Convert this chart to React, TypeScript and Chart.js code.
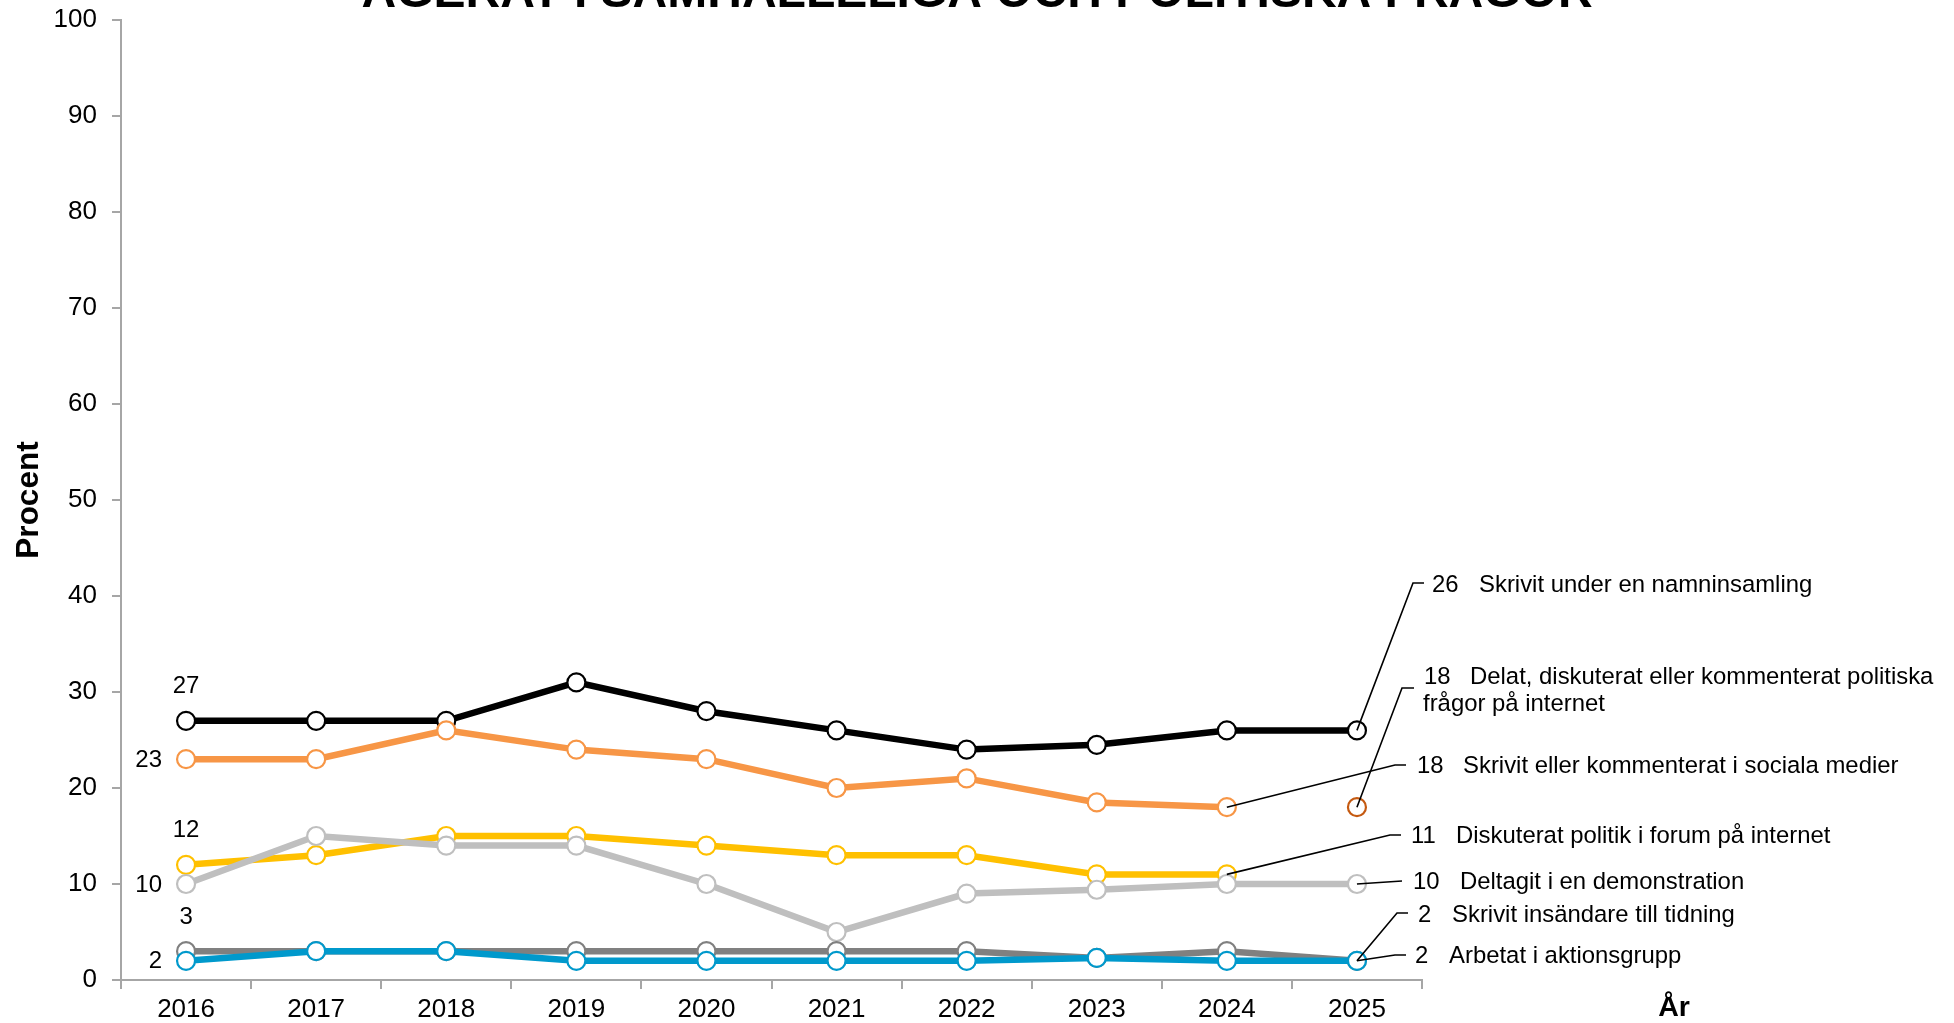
import React, { useEffect, useRef } from 'react';
import { Chart, registerables } from 'chart.js';

Chart.register(...registerables);

// ---------- data ----------
const years = ['2016', '2017', '2018', '2019', '2020', '2021', '2022', '2023', '2024', '2025'];

const namninsamling = [27, 27, 27, 31, 28, 26, 24, 24.5, 26, 26];
const socialaMedier = [23, 23, 26, 24, 23, 20, 21, 18.5, 18, null];
const forumInternet = [12, 13, 15, 15, 14, 13, 13, 11, 11, null];
const demonstration = [10, 15, 14, 14, 10, 5, 9, 9.4, 10, 10];
const insandare = [3, 3, 3, 3, 3, 3, 3, 2.3, 3, 2];
const aktionsgrupp = [2, 3, 3, 2, 2, 2, 2, 2.3, 2, 2];
const delatInternet = [null, null, null, null, null, null, null, null, null, 18];

const seriesLabels = [
  'Skrivit under en namninsamling',
  'Skrivit eller kommenterat i sociala medier',
  'Diskuterat politik i forum på internet',
  'Deltagit i en demonstration',
  'Skrivit insändare till tidning',
  'Arbetat i aktionsgrupp',
  'Delat, diskuterat eller kommenterat politiska frågor på internet',
];
const seriesColors = ['#000000', '#F79646', '#FFC000', '#BFBFBF', '#808080', '#0099CC', '#C55A11'];

const chartTitle = 'AGERAT I SAMHÄLLELIGA OCH POLITISKA FRÅGOR';
const yAxisTitle = 'Procent';
const xAxisTitle = 'År';

// first-year labels: which series and where
const firstLabelSide = ['above', 'left', 'above', 'left', 'above', 'left'];

// end annotations: series, year index, text lines (layout only)
const annotationSeries = [0, 6, 1, 2, 3, 4, 5];
const annotationIndex = [9, 9, 8, 8, 9, 9, 9];
const annotationLines = [
  ['Skrivit under en namninsamling'],
  ['Delat, diskuterat eller kommenterat politiska', 'frågor på internet'],
  ['Skrivit eller kommenterat i sociala medier'],
  ['Diskuterat politik i forum på internet'],
  ['Deltagit i en demonstration'],
  ['Skrivit insändare till tidning'],
  ['Arbetat i aktionsgrupp'],
];
// layout for annotations: elbowX, elbowY, endX, numX, textX, textY
const annotationLayout = [
  [1413, 583, 1424, 1432, 1479, 585],
  [1402, 688, 1414, 1424, 1470, 677],
  [1395, 765, 1406, 1417, 1463, 766],
  [1390, 835, 1401, 1411, 1456, 836],
  [1402, 881, 1402, 1413, 1460, 882],
  [1397, 913, 1408, 1418, 1452, 915],
  [1395, 955, 1406, 1415, 1449, 956],
];

const FONT = '"Liberation Sans", Arial, sans-serif';

const allSeries = [namninsamling, socialaMedier, forumInternet, demonstration, insandare, aktionsgrupp, delatInternet];

const fmt = (v: number) => String(Math.round(v));

const overlayPlugin = {
  id: 'overlay',
  afterDatasetsDraw(chart: any) {
    const ctx = chart.ctx as CanvasRenderingContext2D;
    const xs = chart.scales.x;
    const ys = chart.scales.y;
    ctx.save();
    ctx.fillStyle = '#000';

    // title (partly cut off at the top)
    ctx.font = `bold 48px ${FONT}`;
    ctx.textAlign = 'center';
    ctx.textBaseline = 'alphabetic';
    ctx.fillText(chartTitle, chart.width / 2, 7);

    // y title
    ctx.save();
    ctx.translate(29, (ys.top + ys.bottom) / 2);
    ctx.rotate(-Math.PI / 2);
    ctx.font = `bold 31.5px ${FONT}`;
    ctx.textAlign = 'center';
    ctx.textBaseline = 'middle';
    ctx.fillText(yAxisTitle, 0, 0);
    ctx.restore();

    // x title
    ctx.font = `bold 28.5px ${FONT}`;
    ctx.textAlign = 'center';
    ctx.textBaseline = 'middle';
    ctx.fillText(xAxisTitle, 1674, 1008);

    // first-year labels
    ctx.font = `24px ${FONT}`;
    firstLabelSide.forEach((side, i) => {
      const v = allSeries[i][0] as number;
      const px = xs.getPixelForValue(0);
      const py = ys.getPixelForValue(v);
      if (side === 'above') {
        ctx.textAlign = 'center';
        ctx.textBaseline = 'middle';
        ctx.fillText(fmt(v), px, py - 34);
      } else {
        ctx.textAlign = 'right';
        ctx.textBaseline = 'middle';
        ctx.fillText(fmt(v), px - 24, py + 1);
      }
    });

    // annotations with leader lines
    ctx.strokeStyle = '#000';
    ctx.lineWidth = 1.6;
    annotationSeries.forEach((s, k) => {
      const idx = annotationIndex[k];
      const v = allSeries[s][idx] as number;
      const px = xs.getPixelForValue(idx);
      const py = ys.getPixelForValue(v);
      const [ex, ey, endX, numX, textX, textY] = annotationLayout[k];
      ctx.beginPath();
      ctx.moveTo(px, py);
      ctx.lineTo(ex, ey);
      ctx.lineTo(endX, ey);
      ctx.stroke();
      ctx.font = `23.9px ${FONT}`;
      ctx.textAlign = 'left';
      ctx.textBaseline = 'middle';
      ctx.fillText(fmt(v), numX, textY);
      const lines = annotationLines[k];
      lines.forEach((ln, j) => {
        const lx = j === 0 ? textX : numX - 1;
        ctx.fillText(ln, lx, textY + j * 27);
      });
    });
    ctx.restore();
  },
};

export default function App() {
  const ref = useRef<HTMLCanvasElement>(null);
  useEffect(() => {
    if (!ref.current) return;
    const datasets = allSeries.map((d, i) => ({
      label: seriesLabels[i],
      data: d,
      borderColor: seriesColors[i],
      backgroundColor: seriesColors[i],
      borderWidth: 6.5,
      tension: 0,
      pointRadius: 9,
      pointHoverRadius: 9,
      pointBorderWidth: 2.2,
      pointBackgroundColor: '#FFFFFF',
      pointBorderColor: seriesColors[i],
      spanGaps: false,
      order: 10 - i,
    }));
    const chart = new Chart(ref.current, {
      type: 'line',
      data: { labels: years, datasets },
      options: {
        animation: false,
        responsive: false,
        devicePixelRatio: 1,
        layout: { padding: { left: 0, top: 20, right: 532, bottom: 0 } },
        plugins: { legend: { display: false }, tooltip: { enabled: false }, title: { display: false } },
        scales: {
          x: {
            type: 'category',
            offset: true,
            grid: { offset: true, drawOnChartArea: false, drawTicks: true, tickLength: 9, color: '#A6A6A6', lineWidth: 2 },
            border: { color: '#A6A6A6', width: 2 },
            ticks: { color: '#000', font: { family: FONT, size: 26 }, padding: 5, maxRotation: 0, autoSkip: false },
            afterFit: (s: any) => { s.height = 43; s.paddingLeft = 0; s.paddingRight = 0; },
          },
          y: {
            min: 0,
            max: 100,
            grid: { drawOnChartArea: false, drawTicks: true, tickLength: 9, color: '#A6A6A6', lineWidth: 2 },
            border: { color: '#A6A6A6', width: 2 },
            ticks: { stepSize: 10, color: '#000', font: { family: FONT, size: 26 }, padding: 15 },
            afterFit: (s: any) => { s.width = 121; s.paddingTop = 0; s.paddingBottom = 0; },
          },
        },
      },
      plugins: [overlayPlugin],
    } as any);
    return () => chart.destroy();
  }, []);
  return (
    <div style={{ position: 'absolute', left: 0, top: 0, width: 1954, height: 1023 }}>
      <canvas ref={ref} width={1954} height={1023} style={{ width: 1954, height: 1023, display: 'block' }} />
    </div>
  );
}
